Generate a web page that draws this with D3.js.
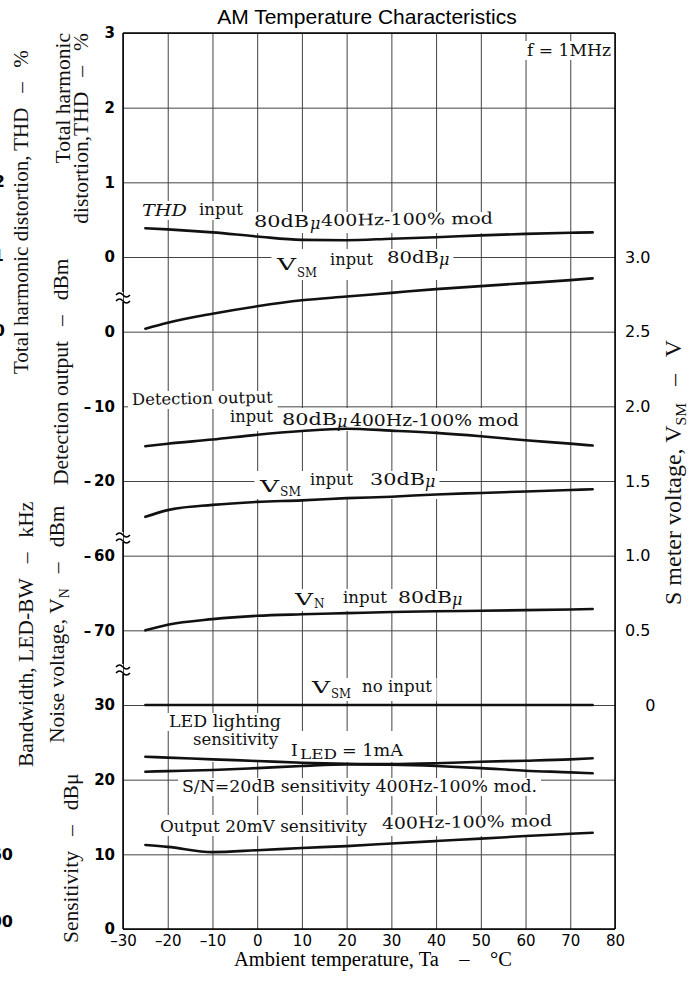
<!DOCTYPE html>
<html><head><meta charset="utf-8">
<script src="https://cdn.jsdelivr.net/npm/d3@7"></script>
<style>
html,body{margin:0;padding:0;background:#fff;}
svg{display:block;}
</style></head>
<body>
<svg id="chart" width="694" height="984"></svg>
<script>
// ---------------- data ----------------
const temps      = [-25, -20, -10, 0, 10, 20, 30, 40, 50, 60, 70, 75];          // °C
const thdPct     = [0.385, 0.37, 0.33, 0.275, 0.23, 0.225, 0.245, 0.265, 0.29, 0.31, 0.325, 0.33];
const vsm80V     = [2.52, 2.56, 2.62, 2.67, 2.71, 2.735, 2.76, 2.785, 2.805, 2.825, 2.845, 2.857];
const detDbm     = [-15.35, -15.0, -14.45, -13.8, -13.3, -13.0, -13.25, -13.55, -14.0, -14.55, -15.0, -15.25];
const vsm30V     = [1.26, 1.305, 1.34, 1.36, 1.37, 1.385, 1.395, 1.41, 1.42, 1.43, 1.44, 1.445];
const vnDbm      = [-70.0, -69.25, -68.5, -68.05, -67.85, -67.7, -67.55, -67.45, -67.38, -67.3, -67.2, -67.15];
const vsmNoV     = [0, 0, 0, 0, 0, 0, 0, 0, 0, 0, 0, 0];
const ledDbu     = [23.07, 22.95, 22.72, 22.5, 22.27, 22.14, 22.08, 22.19, 22.4, 22.54, 22.72, 22.86];
const snDbu      = [21.07, 21.15, 21.3, 21.55, 21.83, 22.05, 22.0, 21.83, 21.55, 21.2, 20.98, 20.85];
const out20Dbu   = [11.25, 11.0, 10.3, 10.55, 10.85, 11.1, 11.45, 11.78, 12.1, 12.45, 12.75, 12.9];

const xTicks     = [-30, -20, -10, 0, 10, 20, 30, 40, 50, 60, 70, 80];
const thdTicks   = [0, 1, 2, 3];
const detTicks   = [0, -10, -20];
const vnTicks    = [-60, -70];
const sensTicks  = [0, 10, 20, 30];
const vsmTicks   = [0, 0.5, 1.0, 1.5, 2.0, 2.5, 3.0];

// ---------------- layout ----------------
const svg = d3.select("#chart");
const L = 123, R = 615, T = 33, B = 929;
const step = (B - T) / 12;
const row = i => T + i * step;
const SANS = "'DejaVu Sans', sans-serif";
const SERIF = "'Liberation Serif', 'Times New Roman', serif";
const LBL = "'DejaVu Serif', serif";
const GAP = "\u2002\u2009\u2013\u2002\u2009";   // spaced dash used in axis titles

const x     = d3.scaleLinear().domain([-30, 80]).range([L, R]);
const yThd  = d3.scaleLinear().domain([0, 3]).range([row(3), row(0)]);
const yDet  = d3.scaleLinear().domain([-20, 0]).range([row(6), row(4)]);
const yVn   = d3.scaleLinear().domain([-70, -60]).range([row(8), row(7)]);
const ySens = d3.scaleLinear().domain([0, 30]).range([row(12), row(9)]);
const yVsm  = d3.scaleLinear().domain([0, 3]).range([row(9), row(3)]);

const fmtNeg = d => d < 0 ? "\u2013\u2009" + Math.abs(d) : String(d);

// ---------------- grid + axes ----------------
const gGrid = svg.append("g");
gGrid.append("g").attr("transform", `translate(0,${B})`)
  .call(d3.axisBottom(x).tickValues(xTicks).tickSize(-(B - T)).tickPadding(6)
        .tickFormat(d => d < 0 ? "\u2013" + Math.abs(d) : String(d)))
  .call(g => g.select(".domain").remove())
  .call(g => g.selectAll("line").attr("stroke", "#444").attr("stroke-width", 1))
  .call(g => g.selectAll("text").attr("font-family", SANS).attr("font-size", 15)
        .attr("fill", "#000"));

function leftAxis(scale, ticks) {
  gGrid.append("g").attr("transform", `translate(${L},0)`)
    .call(d3.axisLeft(scale).tickValues(ticks).tickSize(-(R - L)).tickPadding(8).tickFormat(fmtNeg))
    .call(g => g.select(".domain").remove())
    .call(g => g.selectAll("line").attr("stroke", "#444").attr("stroke-width", 1))
    .call(g => g.selectAll("text").attr("font-family", SANS).attr("font-size", 15)
          .attr("font-weight", "bold").attr("fill", "#000"));
}
leftAxis(yThd, thdTicks);
leftAxis(yDet, detTicks);
leftAxis(yVn, vnTicks);
leftAxis(ySens, sensTicks);

svg.append("g").attr("transform", `translate(${R},0)`)
  .call(d3.axisRight(yVsm).tickValues(vsmTicks).tickSize(0).tickPadding(10)
        .tickFormat(d => d === 0 ? "\u2007\u20070" : d3.format(".1f")(d)))
  .call(g => g.select(".domain").remove())
  .call(g => g.selectAll("text").attr("font-family", SANS).attr("font-size", 16)
        .attr("fill", "#000"));

const gKnock = svg.append("g");
const gFrame = svg.append("g");
const gCurves = svg.append("g");
const gLabels = svg.append("g");

// frame
gFrame.append("line").attr("x1", L).attr("x2", R).attr("y1", T).attr("y2", T);
gFrame.append("line").attr("x1", L).attr("x2", R).attr("y1", B).attr("y2", B);
gFrame.append("line").attr("x1", R).attr("x2", R).attr("y1", T).attr("y2", B);
const breaks = [297, 537, 669];
let prev = T;
breaks.forEach(b => {
  gFrame.append("line").attr("x1", L).attr("x2", L).attr("y1", prev).attr("y2", b - 5);
  prev = b + 5;
  [-3, 3].forEach(o => {
    gFrame.append("path")
      .attr("d", `M${L - 7},${b + o + 1} q3.5,-4 7,0 t7,0`)
      .attr("fill", "none");
  });
});
gFrame.append("line").attr("x1", L).attr("x2", L).attr("y1", prev).attr("y2", B);
gFrame.selectAll("line,path").attr("stroke", "#000").attr("stroke-width", 1.5);

// ---------------- curves ----------------
const series = [
  { v: thdPct,   y: yThd },
  { v: vsm80V,   y: yVsm },
  { v: detDbm,   y: yDet },
  { v: vsm30V,   y: yVsm },
  { v: vnDbm,    y: yVn },
  { v: vsmNoV,   y: yVsm },
  { v: ledDbu,   y: ySens },
  { v: snDbu,    y: ySens },
  { v: out20Dbu, y: ySens }
];
series.forEach(s => {
  const line = d3.line().x((d, i) => x(temps[i])).y(d => s.y(d)).curve(d3.curveMonotoneX);
  gCurves.append("path").attr("d", line(s.v))
    .attr("fill", "none").attr("stroke", "#111").attr("stroke-width", 2.6)
    .attr("stroke-linecap", "round");
});

// ---------------- annotation text (grouped; each group knocks out the grid behind it) ----------------
function labelGroup(pieces) {
  let x0 = Infinity, y0 = Infinity, x1 = -Infinity, y1 = -Infinity;
  pieces.forEach(p => {
    const t = gLabels.append("text").attr("x", p.x).attr("y", p.y).text(p.s)
      .attr("font-family", p.ff || LBL).attr("font-size", p.fs || 16).attr("fill", "#111");
    if (p.it) t.attr("font-style", "italic");
    if (p.w) t.attr("textLength", p.w).attr("lengthAdjust", "spacingAndGlyphs");
    if (p.r) t.attr("transform", `rotate(${p.r},${p.x},${p.y})`);
    const bb = t.node().getBBox();
    x0 = Math.min(x0, bb.x); y0 = Math.min(y0, bb.y);
    x1 = Math.max(x1, bb.x + bb.width); y1 = Math.max(y1, bb.y + bb.height);
  });
  gKnock.append("rect").attr("x", x0 - 4).attr("y", y0 + 1)
    .attr("width", x1 - x0 + 8).attr("height", y1 - y0 - 1).attr("fill", "#fff");
}
const SUB = 12;
[
  [ { x: 142, y: 216, s: "THD", w: 45, it: true },
    { x: 199, y: 215, s: "input", w: 44 } ],
  [ { x: 254, y: 227, s: "80dB", w: 55 },
    { x: 310, y: 229, s: "\u03bc", it: true },
    { x: 321, y: 226, s: "400Hz-100% mod", w: 172, r: -0.8 } ],

  [ { x: 277, y: 270, s: "V", fs: 17, w: 19 },
    { x: 297, y: 277, s: "SM", fs: SUB, w: 20 },
    { x: 330, y: 265, s: "input", w: 43 },
    { x: 387, y: 263, s: "80dB", w: 52 },
    { x: 439, y: 265, s: "\u03bc", it: true } ],

  [ { x: 132, y: 405, s: "Detection output", w: 141, r: -1 } ],
  [ { x: 230, y: 422, s: "input", w: 43 },
    { x: 282, y: 425, s: "80dB", w: 55 },
    { x: 337, y: 427, s: "\u03bc", it: true },
    { x: 350, y: 426, s: "400Hz-100% mod", w: 169 } ],

  [ { x: 260, y: 492, s: "V", fs: 17, w: 19 },
    { x: 280, y: 496, s: "SM", fs: SUB, w: 21 },
    { x: 310, y: 485, s: "input", w: 43 },
    { x: 370, y: 485, s: "30dB", w: 55 },
    { x: 425, y: 487, s: "\u03bc", it: true } ],

  [ { x: 295, y: 605, s: "V", fs: 17, w: 18 },
    { x: 314, y: 608, s: "N", fs: SUB },
    { x: 343, y: 603, s: "input", w: 44 },
    { x: 398, y: 603, s: "80dB", w: 54 },
    { x: 452, y: 605, s: "\u03bc", it: true } ],

  [ { x: 312, y: 693, s: "V", fs: 17, w: 18 },
    { x: 331, y: 698, s: "SM", fs: SUB, w: 20 },
    { x: 362, y: 692, s: "no input", w: 70 } ],

  [ { x: 169, y: 727, s: "LED lighting", w: 112 } ],
  [ { x: 193, y: 745, s: "sensitivity", w: 85 },
    { x: 291, y: 756, s: "I", fs: 17 },
    { x: 300, y: 759, s: "LED", fs: SUB, w: 37 },
    { x: 342, y: 756, s: "= 1mA", w: 61 } ],

  [ { x: 182, y: 792, s: "S/N=20dB sensitivity 400Hz-100% mod.", w: 355 } ],
  [ { x: 160, y: 832, s: "Output 20mV sensitivity", w: 207 },
    { x: 382, y: 829, s: "400Hz-100% mod", w: 170, r: -1 } ],

  [ { x: 527, y: 56, s: "f = 1MHz", w: 84, fs: 17 } ]
].forEach(labelGroup);

// ---------------- titles ----------------
svg.append("text").attr("x", 367).attr("y", 24).attr("text-anchor", "middle")
  .attr("font-family", "'Liberation Sans', Arial, sans-serif").attr("font-size", 21)
  .text("AM Temperature Characteristics");

svg.append("text").attr("x", 373).attr("y", 966).attr("text-anchor", "middle")
  .attr("font-family", SERIF).attr("font-size", 20.5)
  .text("Ambient temperature, Ta\u2002\u2002\u2013\u2002\u2002\u00b0C");

function vtitle(xb, y, anchor, segs, fs) {
  const size = fs || 21.5;
  const t = svg.append("text").attr("transform", `translate(${xb},${y}) rotate(-90)`)
    .attr("text-anchor", anchor).attr("font-family", SERIF).attr("font-size", size).attr("fill", "#111");
  segs.forEach(sg => {
    const ts = t.append("tspan").text(sg.t);
    if (sg.sub) ts.attr("font-size", size * 0.65).attr("dy", 5);
    if (sg.up) ts.attr("dy", -5);
  });
}
vtitle(28, 374, "start", [{ t: "Total harmonic distortion, THD" + GAP + "%" }], 21);
vtitle(70, 33, "end", [{ t: "Total harmonic" }]);
vtitle(88, 33, "end", [{ t: "distortion,THD" + GAP + "%" }]);
vtitle(68, 485, "start", [{ t: "Detection output" + GAP + "dBm" }]);
vtitle(33, 767, "start", [{ t: "Bandwidth, LED-BW" + GAP + "kHz" }]);
vtitle(64, 743, "start", [{ t: "Noise voltage, V" }, { t: "N", sub: true }, { t: GAP + "dBm", up: true }]);
vtitle(78, 943, "start", [{ t: "Sensitivity" + GAP + "dB\u03bc" }]);
vtitle(681, 605, "start", [{ t: "S meter voltage, V" }, { t: "SM", sub: true }, { t: GAP + "V", up: true }], 24);

// clipped tick labels of the neighbouring chart at the left edge
[
  { x: 5, y: 187, s: "2" },
  { x: 4, y: 261, s: "1" },
  { x: 5, y: 336, s: "0" },
  { x: 13, y: 860, s: "60" },
  { x: 13, y: 927, s: "00" }
].forEach(p => svg.append("text").attr("x", p.x).attr("y", p.y).attr("text-anchor", "end")
  .attr("font-family", SANS).attr("font-size", 16).attr("font-weight", "bold").text(p.s));
</script>
</body></html>
